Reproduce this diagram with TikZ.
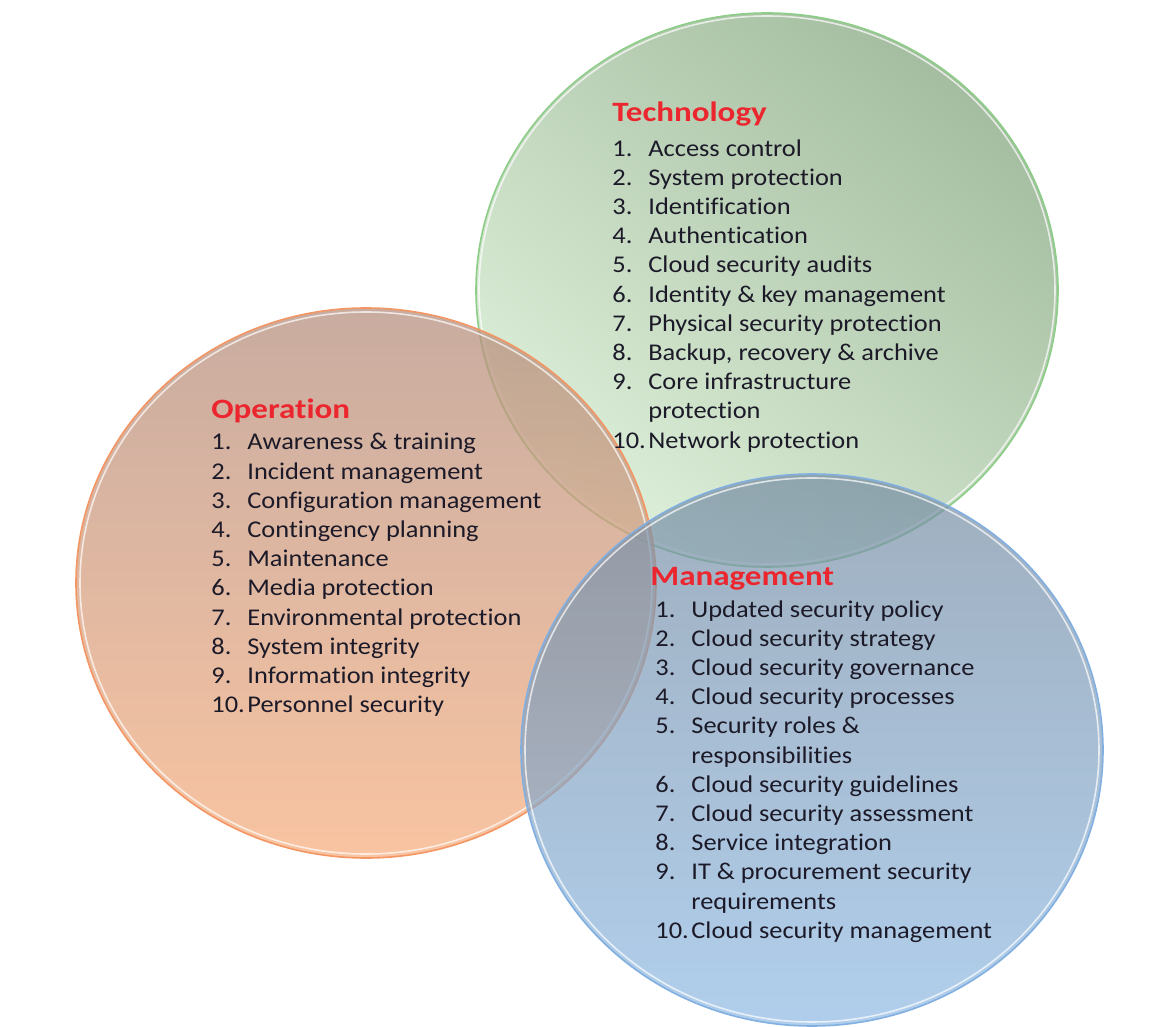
\documentclass[tikz,border=0pt]{standalone}
\usepackage{fontspec}
\setmainfont{Carlito}
\newfontfamily\itemfont[FakeStretch=1.1,Ligatures=NoCommon]{Carlito}
\newfontfamily\headfont[FakeStretch=1.18,Ligatures=NoCommon]{Carlito}

\definecolor{headred}{RGB}{236,38,46}
\definecolor{txtdark}{RGB}{28,26,40}
\definecolor{techdark}{RGB}{164,189,160}
\definecolor{techmid}{RGB}{212,232,208}
\definecolor{techlight}{RGB}{222,240,218}
\definecolor{techline}{RGB}{140,205,135}
\definecolor{opstop}{RGB}{182,144,128}
\definecolor{opsbot}{RGB}{246,176,130}
\definecolor{opsline}{RGB}{244,150,100}
\definecolor{mgmttop}{RGB}{118,140,162}
\definecolor{mgmtbot}{RGB}{143,186,228}
\definecolor{mgmtline}{RGB}{130,175,225}

\newcommand{\itm}[2]{\makebox[18pt][l]{#1}#2}

\tikzset{
  heading/.style={anchor=base west, inner sep=0pt, text=headred,
    font=\headfont\bfseries\fontsize{14}{16}\selectfont},
  itemlist/.style={anchor=north west, inner sep=0pt, align=left, text=txtdark,
    font=\itemfont\fontsize{12}{14.6}\selectfont},
  rim/.style={white, line width=0.8pt, opacity=0.7}
}

\begin{document}
\begin{tikzpicture}[x=0.5pt,y=-0.5pt]
	\useasboundingbox (0,0) rectangle (1164,1027);

	% technology
	\shade[top color=techdark, middle color=techmid, bottom color=techlight, shading angle=-40] (767,290) ellipse [x radius=291, y radius=277];
	\draw[rim] (767,290) ellipse [x radius=288, y radius=274];
	\draw[techline, line width=0.8pt] (767,290) ellipse [x radius=291, y radius=277];

	% operation
	\shade[top color=opstop, bottom color=opsbot, fill opacity=0.75] (366,583) ellipse [x radius=290, y radius=275];
	\draw[rim] (366,583) ellipse [x radius=286, y radius=271];
	\draw[opsline, line width=0.8pt] (366,583) ellipse [x radius=290, y radius=275];

	% management
	\shade[top color=mgmttop, bottom color=mgmtbot, fill opacity=0.7] (812,750) ellipse [x radius=291, y radius=276];
	\draw[rim] (812,750) ellipse [x radius=287, y radius=272];
	\draw[mgmtline, line width=0.8pt] (812,750) ellipse [x radius=291, y radius=276];

	\node[heading] (techhead) at (612,122) {Technology};
	\node[itemlist] (techlist) at (612,139) {\itm{1.}{Access control}\\
		\itm{2.}{System protection}\\
		\itm{3.}{Identification}\\
		\itm{4.}{Authentication}\\
		\itm{5.}{Cloud security audits}\\
		\itm{6.}{Identity \& key management}\\
		\itm{7.}{Physical security protection}\\
		\itm{8.}{Backup, recovery \& archive}\\
		\itm{9.}{Core infrastructure}\\
		\itm{}{protection}\\
		\itm{10.}{Network protection}};

	\node[heading] (opshead) at (211,419) {Operation};
	\node[itemlist] (opslist) at (211,433) {\itm{1.}{Awareness \& training}\\
		\itm{2.}{Incident management}\\
		\itm{3.}{Configuration management}\\
		\itm{4.}{Contingency planning}\\
		\itm{5.}{Maintenance}\\
		\itm{6.}{Media protection}\\
		\itm{7.}{Environmental protection}\\
		\itm{8.}{System integrity}\\
		\itm{9.}{Information integrity}\\
		\itm{10.}{Personnel security}};

	\node[heading] (mgmthead) at (650,586) {Management};
	\node[itemlist] (mgmtlist) at (655,600) {\itm{1.}{Updated security policy}\\
		\itm{2.}{Cloud security strategy}\\
		\itm{3.}{Cloud security governance}\\
		\itm{4.}{Cloud security processes}\\
		\itm{5.}{Security roles \&}\\
		\itm{}{responsibilities}\\
		\itm{6.}{Cloud security guidelines}\\
		\itm{7.}{Cloud security assessment}\\
		\itm{8.}{Service integration}\\
		\itm{9.}{IT \& procurement security}\\
		\itm{}{requirements}\\
		\itm{10.}{Cloud security management}};
\end{tikzpicture}
\end{document}
